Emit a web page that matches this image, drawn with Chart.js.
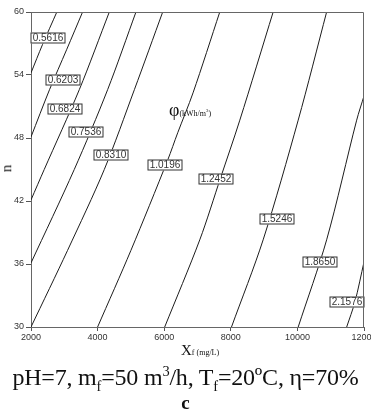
<!DOCTYPE html>
<html>
<head>
<meta charset="utf-8">
<script src="https://cdn.jsdelivr.net/npm/chart.js@4.4.1/dist/chart.umd.min.js"></script>
<style>
  body { margin: 0; background: #fff; }
  #wrap { position: relative; width: 371px; height: 416px; overflow: hidden; }
  canvas { position: absolute; left: 0; top: 0; }
  .t { position: absolute; font-family: "Liberation Serif", "Times New Roman", serif; color: #111; white-space: nowrap; line-height: 1; }
  .t sub, .t sup { font-size: 60%; line-height: 0; }
</style>
</head>
<body>
<div id="wrap">
  <canvas id="chart" width="371" height="416"></canvas>
  <div class="t" style="left:3px;top:161px;font-size:15px;transform:rotate(-90deg);">n</div>
  <div class="t" style="left:181px;top:343px;font-size:15px;">X<span style="font-size:8px;">f (mg/L)</span></div>
  <div class="t" style="left:169px;top:101px;font-size:18px;">φ<span style="font-size:8px;">(kWh/m<sup>3</sup>)</span></div>
  <div class="t" style="left:0;width:371px;top:365px;text-align:center;font-size:24px;letter-spacing:-0.2px;">pH=7, m<sub>f</sub>=50 m<sup>3</sup>/h, T<sub>f</sub>=20ºC, η=70%</div>
  <div class="t" style="left:0;width:371px;top:393px;text-align:center;font-size:19px;font-weight:bold;">c</div>
</div>
<script>
// axis ticks
const xfTicks = [2000, 4000, 6000, 8000, 10000, 12000];
const nTicks = [30, 36, 42, 48, 54, 60];

// contour levels, phi (kWh/m3)
const levels = ['0.5616', '0.6203', '0.6824', '0.7536', '0.8310', '1.0196', '1.2452', '1.5246', '1.8650', '2.1576'];

// points (Xf, n)
const xf0 = [2000, 2346, 2776];               const n0 = [54.2, 56.9, 60];
const xf1 = [2000, 2556, 3068, 3549];         const n1 = [48.1, 52.6, 56.4, 60];
const xf2 = [2000, 2397, 3450, 4352];         const n2 = [42.1, 45.0, 52.6, 60];
const xf3 = [2000, 3299, 4301, 5152];         const n3 = [36.1, 45.0, 52.6, 60];
const xf4 = [2000, 3098, 4201, 5104, 5955];   const n4 = [30, 37.3, 45.0, 52.6, 60];
const xf5 = [4000, 5001, 6105, 6406, 6866, 7669]; const n5 = [30, 37.3, 45.9, 48.5, 52.3, 60];
const xf6 = [6015, 7068, 7692, 8271, 9272];   const n6 = [30, 38.3, 44.2, 49.7, 60];
const xf7 = [8021, 8971, 10024, 10878];       const n7 = [30, 38.3, 49.7, 60];
const xf8 = [10024, 10878, 11780, 12000];     const n8 = [30, 38.3, 49.7, 52.0];
const xf9 = [11480, 11729, 12000];            const n9 = [30, 32.4, 36.2];

const contourXf = [xf0, xf1, xf2, xf3, xf4, xf5, xf6, xf7, xf8, xf9];
const contourN = [n0, n1, n2, n3, n4, n5, n6, n7, n8, n9];

// where the level labels sit
const labelXf = [2520, 2947, 3007, 3648, 4400, 6015, 7570, 9374, 10677, 11488];
const labelN = [57.5, 53.55, 50.8, 48.6, 46.4, 45.4, 44.1, 40.3, 36.2, 32.4];

const tickFont = { family: 'Arial, "Liberation Sans", sans-serif', size: 9 };

const datasets = levels.map((lv, i) => ({
  label: lv,
  data: contourXf[i].map((x, j) => ({ x: x, y: contourN[i][j] })),
  showLine: true,
  pointRadius: 0,
  borderColor: '#1c1c1c',
  borderWidth: 1,
  tension: 0.3
}));

// box round the plot (top and right side)
const frame = {
  id: 'frame',
  afterDraw(chart) {
    const a = chart.chartArea, ctx = chart.ctx;
    ctx.save();
    ctx.strokeStyle = '#666';
    ctx.lineWidth = 1;
    ctx.beginPath();
    ctx.moveTo(a.left, a.top + 0.5);
    ctx.lineTo(a.right - 0.5, a.top + 0.5);
    ctx.lineTo(a.right - 0.5, a.bottom);
    ctx.stroke();
    ctx.restore();
  }
};

// boxed values on the contours
const contourLabels = {
  id: 'contourLabels',
  afterDatasetsDraw(chart) {
    const ctx = chart.ctx, xs = chart.scales.x, ys = chart.scales.y;
    ctx.save();
    ctx.font = '10px Arial, "Liberation Sans", sans-serif';
    ctx.textAlign = 'center';
    ctx.textBaseline = 'middle';
    levels.forEach((lv, i) => {
      const px = Math.round(xs.getPixelForValue(labelXf[i]));
      const py = Math.round(ys.getPixelForValue(labelN[i]));
      const w = Math.round(ctx.measureText(lv).width) + 4;
      const h = 11;
      ctx.fillStyle = '#fff';
      ctx.fillRect(px - w / 2, py - h / 2, w, h);
      ctx.strokeStyle = '#333';
      ctx.lineWidth = 1;
      ctx.strokeRect(px - w / 2 + 0.5, py - h / 2 + 0.5, w - 1, h - 1);
      ctx.fillStyle = '#333';
      ctx.fillText(lv, px, py + 0.5);
    });
    ctx.restore();
  }
};

new Chart(document.getElementById('chart'), {
  type: 'scatter',
  data: { datasets: datasets },
  options: {
    responsive: false,
    animation: false,
    layout: { padding: { top: 12, right: 7, bottom: 69, left: 0 } },
    plugins: {
      legend: { display: false },
      tooltip: { enabled: false }
    },
    scales: {
      x: {
        type: 'linear',
        min: 2000,
        max: 12000,
        afterBuildTicks: s => { s.ticks = xfTicks.map(v => ({ value: v })); },
        afterFit: s => { s.height = 20; s.paddingLeft = 0; s.paddingRight = 0; },
        ticks: { font: tickFont, color: '#333', padding: 1, maxRotation: 0, autoSkip: false, callback: v => String(v) },
        grid: { drawOnChartArea: false, tickLength: 4, color: '#555' },
        border: { color: '#666' }
      },
      y: {
        type: 'linear',
        min: 30,
        max: 60,
        afterBuildTicks: s => { s.ticks = nTicks.map(v => ({ value: v })); },
        afterFit: s => { s.width = 31; s.paddingTop = 0; s.paddingBottom = 0; },
        ticks: { font: tickFont, color: '#333', padding: 2, autoSkip: false, callback: v => String(v) },
        grid: { drawOnChartArea: false, tickLength: 5, color: '#555' },
        border: { color: '#666' }
      }
    }
  },
  plugins: [frame, contourLabels]
});
</script>
</body>
</html>
